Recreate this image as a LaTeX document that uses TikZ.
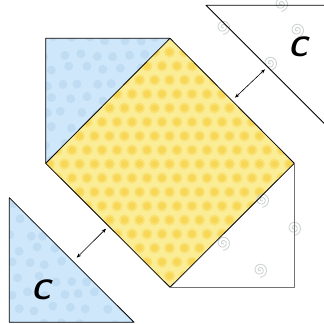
\documentclass[tikz,border=0pt]{standalone}
\usepackage{tikz}
\usetikzlibrary{arrows.meta}
\definecolor{patchblue}{RGB}{206,231,250}
\definecolor{dotblue}{RGB}{160,196,228}
\definecolor{patchyellow}{RGB}{251,236,150}
\definecolor{dotyellow}{RGB}{245,200,40}
\definecolor{swirlgray}{RGB}{208,212,212}
\tikzset{
  edge/.style={draw=black, line width=0.8pt, line join=round},
  edgegray/.style={draw=black!55, line width=0.8pt, line join=round},
  dblarrow/.style={{Stealth[length=4.5pt,width=3.5pt]}-{Stealth[length=4.5pt,width=3.5pt]}, line width=0.6pt},
  letter/.style={font=\sffamily\bfseries\slshape\fontsize{28}{28}\selectfont, inner sep=0pt},
  swirl/.pic={\draw[swirlgray, line width=0.9pt]
    plot[domain=0:810, samples=50, smooth, variable=\t] ({0.009*\t*cos(\t)}, {0.009*\t*sin(\t)});},
}
\begin{document}
\begin{tikzpicture}[x=1pt, y=-1pt]
\useasboundingbox (0,0) rectangle (324,324);
\fill[white] (0,0) rectangle (324,324);

% corners of the block
\coordinate (tl) at (45.7,38.3);
\coordinate (tm) at (170,38.3);
\coordinate (lm) at (45.7,163.3);
\coordinate (rm) at (294.3,163.3);
\coordinate (bm) at (170,287.3);
\coordinate (br) at (294.3,287.3);
% loose triangles
\coordinate (bltop) at (9.3,197.7);
\coordinate (blcorner) at (9.3,322.3);
\coordinate (blright) at (134,322.3);
\coordinate (trleft) at (206,5.3);
\coordinate (trcorner) at (332,5.3);
\coordinate (trlow) at (332,131.3);

% blue pieces
\begin{scope}
  \clip (tl) -- (tm) -- (lm) -- cycle (bltop) -- (blcorner) -- (blright) -- cycle;
  \fill[patchblue] (0,0) rectangle (324,324);
  \pgfmathsetseed{7}
  \foreach \j in {0,...,20}{
    \foreach \i in {0,...,10}{
      \fill[dotblue, opacity=0.3] ({17*\i+8.5*mod(\j,2)+rnd*6},{36+15*\j+rnd*6}) circle[radius=4.5pt];
    }
  }
\end{scope}

% yellow square on point
\begin{scope}
  \clip (tm) -- (rm) -- (bm) -- (lm) -- cycle;
  \fill[patchyellow] (tm) -- (rm) -- (bm) -- (lm) -- cycle;
  \foreach \j in {0,...,18}{
    \foreach \i in {0,...,17}{
      \fill[dotyellow, opacity=0.3] ({42+15*\i+7.5*mod(\j,2)},{38+14*\j}) circle[radius=5.5pt];
      \fill[dotyellow, opacity=0.4] ({42+15*\i+7.5*mod(\j,2)},{38+14*\j}) circle[radius=3.5pt];
    }
  }
\end{scope}

% swirls on the white pieces
\foreach \p in {(223,27),(297,30),(270,63),(281,4),(262,200),(223,243),(260,270),(294,228)}
  \pic at \p {swirl};

% outlines
\path[edge] (tl) -- (tm) -- (rm) -- (bm) -- (lm) -- cycle;
\path[edge] (tm) -- (lm);
\path[edgegray] (rm) -- (br) -- (bm);
\path[edge] (bltop) -- (blcorner) -- (blright) -- cycle;
\path[edge] (trcorner) -- (trleft) -- (trlow);

% labels
\node[letter] (ctop) at (298,47) {C};
\node[letter] (cbot) at (41,290) {C};

% arrows
\coordinate (atop1) at (235,97.7);
\coordinate (atop2) at (265,69.3);
\coordinate (abot1) at (76.7,257.7);
\coordinate (abot2) at (106,228.7);
\draw[dblarrow] (atop1) -- (atop2);
\draw[dblarrow] (abot1) -- (abot2);
\end{tikzpicture}
\end{document}
